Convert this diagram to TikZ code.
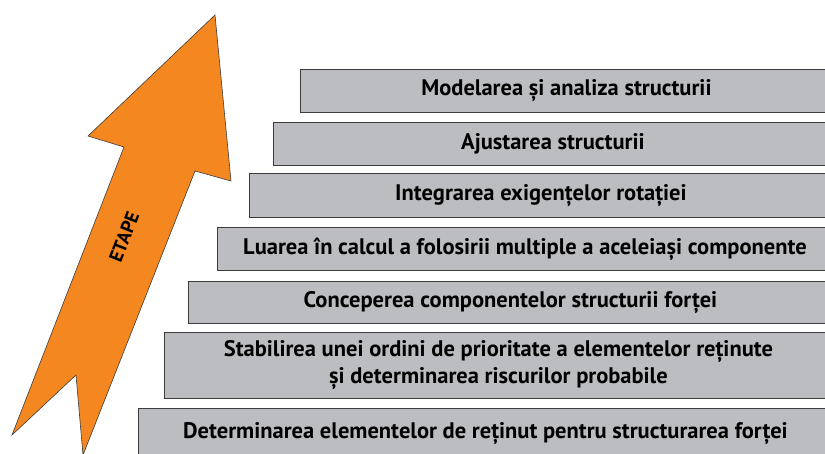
\documentclass[tikz,border=0pt]{standalone}
\usepackage{fontspec}
\setmainfont{PT Sans}
\definecolor{portocaliu}{RGB}{245,135,32}
\definecolor{gri}{RGB}{188,189,192}
\definecolor{contur}{RGB}{60,60,60}

\begin{document}
\begin{tikzpicture}[x=1pt,y=-1pt,
    etapa/.style={draw=contur, fill=gri, line width=0.9pt, anchor=north west,
      inner sep=0pt, align=center, font=\bfseries\fontsize{22.5}{27}\selectfont}]
			\useasboundingbox (0,0) rectangle (825,453);
			
			%Sageata
			\draw[fill=portocaliu, draw=contur, line width=0.6pt] (215,15) -- (231,181) -- (195,171) -- (83,455)
			  -- (76,375) -- (12,435) -- (124,147) -- (88,136) -- cycle;
			\node[rotate=68.5, font=\bfseries\fontsize{19}{22}\selectfont] (etape) at (124,237) {ETAPE};
			
			%Etape (de sus in jos)
			\node[etapa, minimum width=532, minimum height=43] (e1) at (300,69) {Modelarea și analiza structurii};
			\node[etapa, minimum width=559, minimum height=43] (e2) at (273,122) {Ajustarea structurii};
			\node[etapa, minimum width=583, minimum height=44] (e3) at (249,173) {Integrarea exigențelor rotației};
			\node[etapa, minimum width=615, minimum height=43] (e4) at (217,227) {Luarea în calcul a folosirii multiple a aceleiași componente};
			\node[etapa, minimum width=644, minimum height=42] (e5) at (188,281) {Conceperea componentelor structurii forței};
			\node[etapa, minimum width=668, minimum height=66] (e6) at (164,332) {Stabilirea unei ordini de prioritate a elementelor reținute\\și determinarea riscurilor probabile};
			\node[etapa, minimum width=694, minimum height=50] (e7) at (138,408) {\raisebox{3pt}{Determinarea elementelor de reținut pentru structurarea forței}};
			
\end{tikzpicture}
\end{document}
